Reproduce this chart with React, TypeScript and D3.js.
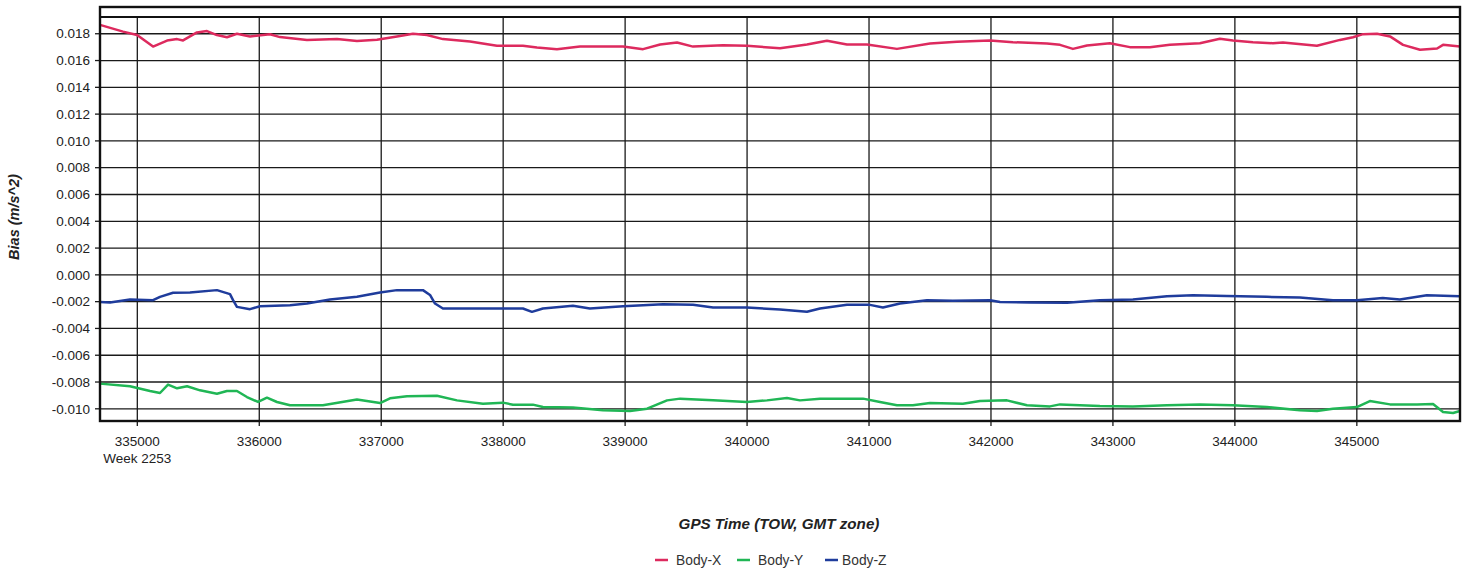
import React from "react";
import * as d3 from "d3";

const xTicks = [335000, 336000, 337000, 338000, 339000, 340000, 341000, 342000, 343000, 344000, 345000];
const yTicks = [-0.010, -0.008, -0.006, -0.004, -0.002, 0.000, 0.002, 0.004, 0.006, 0.008, 0.010, 0.012, 0.014, 0.016, 0.018];
const seriesNames = ["Body-X", "Body-Y", "Body-Z"];
const seriesColors = ["#dd2a5e", "#20b655", "#1f3c9c"];

const timeX = [334694, 334883, 334998, 335129, 335244, 335326, 335375, 335489, 335571, 335653, 335735, 335817, 335924, 336088, 336170, 336391, 336637, 336801, 336965, 337129, 337260, 337375, 337506, 337728, 337949, 338162, 338277, 338441, 338630, 338983, 339147, 339287, 339426, 339557, 339803, 339999, 340270, 340491, 340655, 340819, 340983, 341229, 341500, 341721, 341992, 342180, 342459, 342566, 342672, 342787, 342975, 343139, 343303, 343467, 343713, 343877, 343984, 344148, 344312, 344394, 344673, 344862, 344969, 345051, 345166, 345272, 345379, 345518, 345658, 345707, 345846];
const bodyX = [0.01866, 0.01816, 0.0179, 0.01704, 0.01749, 0.0176, 0.0175, 0.0181, 0.0182, 0.0179, 0.01774, 0.018, 0.0178, 0.01796, 0.01775, 0.01754, 0.0176, 0.01746, 0.01755, 0.0178, 0.018, 0.0179, 0.0176, 0.01742, 0.0171, 0.0171, 0.01697, 0.01685, 0.01704, 0.01704, 0.01685, 0.0172, 0.01734, 0.01704, 0.01715, 0.0171, 0.01692, 0.0172, 0.01747, 0.0172, 0.0172, 0.01687, 0.01727, 0.0174, 0.01749, 0.01737, 0.01727, 0.01717, 0.01687, 0.01712, 0.01729, 0.017, 0.017, 0.01717, 0.01729, 0.01762, 0.0175, 0.01737, 0.01729, 0.01734, 0.0171, 0.01754, 0.01774, 0.01797, 0.018, 0.0178, 0.01717, 0.0168, 0.0169, 0.01717, 0.01704];

const timeY = [334694, 334940, 335104, 335186, 335252, 335326, 335408, 335514, 335653, 335735, 335817, 335899, 335990, 336063, 336145, 336252, 336522, 336801, 336990, 337072, 337211, 337457, 337621, 337834, 337998, 338080, 338244, 338326, 338572, 338818, 339040, 339180, 339344, 339451, 339721, 339999, 340163, 340327, 340434, 340598, 340951, 341090, 341229, 341360, 341500, 341770, 341910, 342131, 342295, 342484, 342566, 342893, 343164, 343443, 343713, 343984, 344262, 344533, 344673, 344804, 345000, 345107, 345272, 345494, 345625, 345707, 345789, 345846];
const bodyY = [-0.00812, -0.00832, -0.00867, -0.00882, -0.00819, -0.00847, -0.00832, -0.00862, -0.00887, -0.00867, -0.00867, -0.00912, -0.00949, -0.00917, -0.00949, -0.00974, -0.00974, -0.00931, -0.00957, -0.00922, -0.00907, -0.00902, -0.00937, -0.00962, -0.00954, -0.00969, -0.00969, -0.00987, -0.00991, -0.01011, -0.01016, -0.00999, -0.00937, -0.00924, -0.00937, -0.00949, -0.00937, -0.00919, -0.00937, -0.00924, -0.00924, -0.00949, -0.00974, -0.00974, -0.00957, -0.00962, -0.00942, -0.00937, -0.00974, -0.00982, -0.00967, -0.00979, -0.00982, -0.00974, -0.00967, -0.00974, -0.00987, -0.01011, -0.01016, -0.00999, -0.00987, -0.00942, -0.00967, -0.00967, -0.00964, -0.01024, -0.01031, -0.01016];

const timeZ = [334694, 334776, 334940, 335129, 335186, 335293, 335432, 335653, 335760, 335785, 335817, 335924, 336006, 336252, 336391, 336580, 336801, 336990, 337129, 337342, 337400, 337441, 337506, 337752, 337998, 338162, 338236, 338326, 338572, 338711, 338983, 339311, 339557, 339721, 339999, 340270, 340491, 340598, 340819, 341008, 341114, 341254, 341475, 341688, 341992, 342074, 342320, 342623, 342893, 343164, 343443, 343656, 343934, 344262, 344533, 344804, 345000, 345213, 345353, 345574, 345846];
const bodyZ = [-0.00202, -0.00207, -0.00184, -0.00189, -0.00164, -0.00134, -0.00132, -0.00114, -0.00144, -0.00189, -0.00239, -0.00256, -0.00234, -0.00226, -0.00214, -0.00184, -0.00164, -0.00132, -0.00114, -0.00114, -0.0015, -0.00214, -0.00251, -0.00251, -0.00251, -0.00251, -0.00276, -0.00251, -0.00231, -0.00251, -0.00234, -0.00219, -0.00224, -0.00244, -0.00244, -0.00259, -0.00276, -0.00251, -0.00224, -0.00224, -0.00244, -0.00214, -0.00189, -0.00194, -0.00189, -0.00202, -0.00207, -0.00209, -0.00189, -0.00184, -0.00159, -0.00152, -0.00157, -0.00164, -0.00169, -0.00189, -0.00189, -0.00172, -0.00184, -0.00152, -0.00159];

const FONT = "'Liberation Sans', Arial, sans-serif";

export default function App() {
  const W = 1473, H = 575;
  const left = 100, right = 1460, top = 17, bottom = 421, frameTop = 7;
  const x = d3.scaleLinear().domain([334694, 345846]).range([left, right]);
  const y = d3.scaleLinear().domain([-0.01091, 0.01925]).range([bottom, top]);

  const series = [
    { t: timeX, v: bodyX },
    { t: timeY, v: bodyY },
    { t: timeZ, v: bodyZ },
  ];
  const line = d3.line<[number, number]>().x((d) => x(d[0])).y((d) => y(d[1]));
  const fmt = (v: number) => (Math.abs(v) < 1e-9 ? "0.000" : v.toFixed(3));

  const legendItems = [
    { sx: 655, tx: 676 },
    { sx: 737, tx: 758 },
    { sx: 825, tx: 842 },
  ];

  return (
    <svg width={W} height={H} style={{ position: "absolute", left: 0, top: 0, background: "#fff" }} fontFamily={FONT}>
      <rect x={0} y={0} width={W} height={H} fill="#fff" />
      {yTicks.map((v) => (
        <g key={"y" + v}>
          <line x1={left} x2={right} y1={y(v)} y2={y(v)} stroke="#1a1a1a" strokeWidth={1.3} />
          <line x1={left - 5} x2={left} y1={y(v)} y2={y(v)} stroke="#1a1a1a" strokeWidth={1.3} />
          <text x={90} y={y(v)} dy="0.35em" textAnchor="end" fontSize={13.5} fill="#222">
            {fmt(v)}
          </text>
        </g>
      ))}
      {xTicks.map((t) => (
        <g key={"x" + t}>
          <line x1={x(t)} x2={x(t)} y1={top} y2={bottom + 5} stroke="#1a1a1a" strokeWidth={1.3} />
          <text x={x(t)} y={446} textAnchor="middle" fontSize={13.5} fill="#222">
            {t}
          </text>
        </g>
      ))}
      <text x={x(xTicks[0])} y={463} textAnchor="middle" fontSize={13.5} fill="#222">
        Week 2253
      </text>
      <line x1={left} x2={right} y1={top} y2={top} stroke="#111" strokeWidth={1.8} />
      {series.map((s, i) => (
        <path
          key={seriesNames[i]}
          d={line(s.t.map((t, j) => [t, s.v[j]] as [number, number])) || ""}
          fill="none"
          stroke={seriesColors[i]}
          strokeWidth={2.5}
          strokeLinejoin="round"
        />
      ))}
      <rect x={left} y={frameTop} width={right - left} height={bottom - frameTop} fill="none" stroke="#111" strokeWidth={2.4} />
      <text
        transform={`translate(19,217) rotate(-90)`}
        textAnchor="middle"
        fontSize={14.5}
        fontWeight="bold"
        fontStyle="italic"
        fill="#222"
      >
        Bias (m/s^2)
      </text>
      <text x={779} y={529} textAnchor="middle" fontSize={15.2} fontWeight="bold" fontStyle="italic" fill="#222">
        GPS Time (TOW, GMT zone)
      </text>
      {legendItems.map((it, i) => (
        <g key={"lg" + i}>
          <line x1={it.sx} x2={it.sx + 13} y1={560} y2={560} stroke={seriesColors[i]} strokeWidth={2.5} />
          <text x={it.tx} y={560} dy="0.35em" fontSize={13.8} fill="#333">
            {seriesNames[i]}
          </text>
        </g>
      ))}
    </svg>
  );
}
